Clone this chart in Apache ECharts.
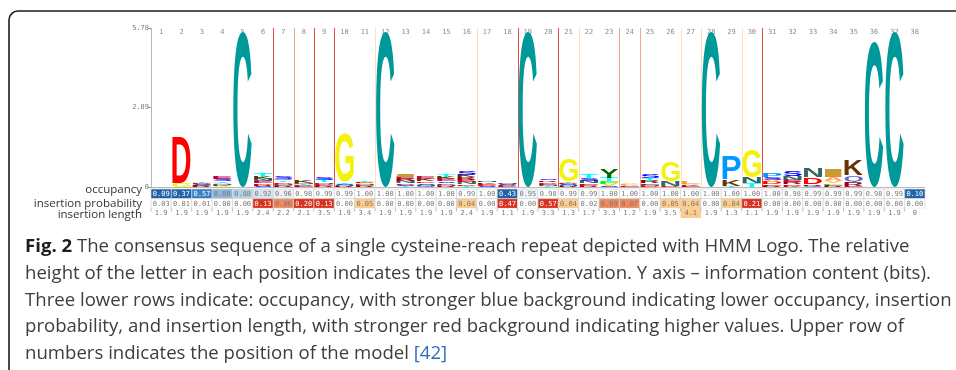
<!DOCTYPE html>
<html lang="en">
<head>
<meta charset="UTF-8">
<title>HMM Logo</title>
<script src="https://cdn.jsdelivr.net/npm/echarts@6/dist/echarts.min.js"></script>
<style>
    html, body { margin: 0; padding: 0; background: #fff; }
    #main { width: 956px; height: 370px; }
</style>
</head>
<body>
<div id="main"></div>
<script>
// model positions (top axis)
var positions = ['1','2','3','4','5','6','7','8','9','10','11','12','13','14','15','16','17','18','19',
    '20','21','22','23','24','25','26','27','28','29','30','31','32','33','34','35','36','37','38'];
var bitTicks = [0, 2.89, 5.78];
var rowNames = ['occupancy', 'insertion probability', 'insertion length'];

var occupancy = [0.09,0.37,0.57,0.80,0.88,0.92,0.96,0.98,0.99,0.99,1.00,1.00,1.00,1.00,1.00,0.99,1.00,0.43,0.95,
    0.98,0.99,0.99,1.00,1.00,1.00,1.00,1.00,1.00,1.00,1.00,1.00,0.98,0.99,0.99,0.99,0.98,0.99,0.10];
var insertProb = [0.03,0.01,0.01,0.00,0.00,0.13,0.06,0.20,0.13,0.00,0.05,0.00,0.00,0.00,0.00,0.04,0.00,0.47,0.00,
    0.57,0.04,0.02,0.09,0.07,0.00,0.05,0.04,0.00,0.04,0.21,0.00,0.00,0.00,0.00,0.00,0.00,0.00,0.00];
var insertLen = [1.9,1.9,1.9,1.9,1.9,2.4,2.2,2.1,3.5,1.9,3.4,1.9,1.9,1.9,1.9,2.4,1.9,1.1,1.9,
    3.3,1.3,1.7,3.3,1.2,1.9,3.5,4.1,1.9,1.3,1.1,1.9,1.9,1.9,1.9,1.9,1.9,1.9,0];

// letters of each column, bottom -> top, [residue, bits]
var logoStacks = [
    [],
    [['G',0.15],['D',1.67]],
    [['R',0.02],['E',0.03],['K',0.03],['S',0.03],['D',0.03],['T',0.04]],
    [['G',0.03],['K',0.04],['N',0.04],['A',0.05],['T',0.06],['S',0.07],['E',0.07]],
    [['C',5.65]],
    [['S',0.04],['R',0.05],['D',0.06],['E',0.07],['N',0.07],['K',0.09],['T',0.12]],
    [['R',0.03],['E',0.04],['N',0.05],['D',0.05],['T',0.06],['Q',0.06],['S',0.07]],
    [['E',0.03],['D',0.03],['T',0.04],['N',0.05],['K',0.07]],
    [['R',0.03],['E',0.04],['D',0.05],['N',0.06],['T',0.07],['S',0.08]],
    [['R',0.03],['N',0.04],['S',0.05],['T',0.06],['G',1.78]],
    [['R',0.03],['E',0.03],['N',0.04],['G',0.04],['D',0.05],['T',0.06]],
    [['C',5.65]],
    [['T',0.04],['S',0.05],['D',0.06],['N',0.07],['R',0.07],['E',0.08],['I',0.10]],
    [['Q',0.04],['N',0.05],['S',0.06],['D',0.06],['K',0.07],['E',0.08]],
    [['R',0.04],['N',0.05],['D',0.06],['S',0.06],['E',0.07],['K',0.08],['T',0.08]],
    [['T',0.05],['D',0.06],['N',0.07],['E',0.08],['R',0.09],['K',0.10],['S',0.15]],
    [['S',0.03],['D',0.04],['E',0.05],['K',0.05],['N',0.05]],
    [['E',0.03],['D',0.03],['S',0.04],['N',0.05]],
    [['C',5.65]],
    [['T',0.03],['N',0.04],['E',0.05],['D',0.06],['R',0.06],['S',0.06]],
    [['R',0.03],['N',0.04],['S',0.04],['D',0.05],['T',0.05],['G',0.80]],
    [['R',0.04],['D',0.05],['E',0.06],['N',0.07],['S',0.10],['T',0.12]],
    [['S',0.04],['V',0.08],['F',0.10],['T',0.12],['Y',0.30]],
    [['E',0.03],['A',0.04],['L',0.05],['V',0.06]],
    [['D',0.04],['N',0.05],['E',0.06],['R',0.07],['T',0.10],['S',0.12]],
    [['D',0.03],['N',0.18],['G',0.73]],
    [['E',0.03],['K',0.04],['A',0.05],['L',0.07]],
    [['C',5.65]],
    [['T',0.04],['K',0.25],['P',0.84]],
    [['T',0.14],['N',0.22],['G',0.98]],
    [['R',0.05],['E',0.06],['D',0.07],['V',0.08],['S',0.10],['P',0.14]],
    [['K',0.04],['D',0.06],['R',0.08],['E',0.08],['N',0.14],['S',0.18]],
    [['Q',0.05],['R',0.05],['D',0.25],['N',0.33]],
    [['R',0.04],['E',0.04],['F',0.05],['V',0.10],['A',0.12],['I',0.30]],
    [['E',0.05],['R',0.13],['Q',0.25],['K',0.58]],
    [['C',5.27]],
    [['C',5.63]],
    []
];

var letterColors = {
    A: '#FF9966', C: '#009999', D: '#FF0000', E: '#CC0033', F: '#00FF00', G: '#f2f20c',
    H: '#660033', I: '#CC9933', K: '#663300', L: '#FF9933', M: '#CC99CC', N: '#336666',
    P: '#0099FF', Q: '#6666CC', R: '#990000', S: '#0000FF', T: '#00FFFF', V: '#FFCC33',
    W: '#66CC66', Y: '#006600'
};

// stack letters
var logoData = [], logoLetters = [];
logoStacks.forEach(function (stack, c) {
    var base = 0;
    stack.forEach(function (s) {
        logoData.push([c, base, base + s[1]]);
        logoLetters.push(s[0]);
        base += s[1];
    });
});

// glyph ink box, measured once per letter
var mctx = document.createElement('canvas').getContext('2d');
mctx.font = 'bold 100px Liberation Sans';
mctx.textBaseline = 'middle';
mctx.textAlign = 'left';
var glyphs = {};
function glyph(ch) {
    if (!glyphs[ch]) {
        var m = mctx.measureText(ch);
        glyphs[ch] = {l: m.actualBoundingBoxLeft, r: m.actualBoundingBoxRight,
            a: m.actualBoundingBoxAscent, d: m.actualBoundingBoxDescent};
    }
    return glyphs[ch];
}

function renderLetter(params, api) {
    var ch = logoLetters[params.dataIndex];
    var bot = api.coord([api.value(0), api.value(1)]);
    var top = api.coord([api.value(0), api.value(2)]);
    var h = bot[1] - top[1];
    if (h < 0.2) return null;
    var w = api.size([1, 0])[0] - 2;
    var g = glyph(ch);
    var sx = w / (g.l + g.r), sy = h / (g.a + g.d);
    return {
        type: 'text',
        x: bot[0] - w / 2 + g.l * sx,
        y: top[1] + g.a * sy,
        scaleX: sx,
        scaleY: sy,
        style: {
            text: ch, x: 0, y: 0,
            fontSize: 100, fontWeight: 'bold', fontFamily: 'Liberation Sans',
            fill: letterColors[ch], align: 'left', verticalAlign: 'middle'
        }
    };
}

function lineColor(p) {
    if (p >= 0.1) return '#e9503f';
    if (p >= 0.06) return '#f6a487';
    if (p >= 0.04) return '#fde0b9';
    return null;
}

function renderInsertLine(params, api) {
    var col = lineColor(api.value(1));
    if (!col) return null;
    var top = api.coord([api.value(0), 5.78]);
    var bot = api.coord([api.value(0), 0]);
    var x = Math.round(top[0] + api.size([1, 0])[0] / 2) + 0.5;
    return {type: 'line', shape: {x1: x, y1: top[1], x2: x, y2: bot[1]},
        style: {stroke: col, lineWidth: 1}};
}

function occFill(v) {
    if (v < 0.45) return '#2064ab';
    if (v < 0.6) return '#3a80c2';
    if (v < 0.85) return '#8fb7dc';
    if (v < 0.9) return '#b6d0e8';
    if (v < 0.95) return '#d6e4f2';
    if (v < 0.97) return '#ecf2f9';
    return '#ffffff';
}
function probFill(v) {
    if (v >= 0.1) return '#d9321f';
    if (v >= 0.06) return '#f08a5c';
    if (v >= 0.04) return '#fdcd8c';
    return '#ffffff';
}

var tableData = [];
occupancy.forEach(function (v, c) { tableData.push([c, 0, v]); });
insertProb.forEach(function (v, c) { tableData.push([c, 1, v]); });
insertLen.forEach(function (v, c) { tableData.push([c, 2, v]); });

function renderCell(params, api) {
    var c = api.value(0), r = api.value(1), v = api.value(2);
    var p = api.coord([c, r]);
    var s = api.size([1, 1]);
    var x0 = p[0] - s[0] / 2, y0 = p[1] - s[1] / 2;
    var fill, txt, label;
    if (r === 0) {
        fill = occFill(v); txt = v < 0.6 ? '#ffffff' : '#7a7a7a'; label = v.toFixed(2);
    } else if (r === 1) {
        fill = probFill(v); txt = v >= 0.1 ? '#ffffff' : '#7a7a7a'; label = v.toFixed(2);
    } else {
        fill = v >= 4 ? '#fdcd8c' : '#ffffff'; txt = '#7a7a7a'; label = v === 0 ? '0' : v.toFixed(1);
    }
    var children = [];
    if (r < 2) {
        children.push({type: 'rect', shape: {x: x0, y: y0, width: s[0], height: s[1]},
            style: {fill: fill, stroke: '#d4d4d4', lineWidth: 0.7}});
    } else {
        children.push({type: 'rect', shape: {x: x0, y: y0, width: s[0], height: s[1]},
            style: {fill: fill}});
        children.push({type: 'line', shape: {x1: x0, y1: y0, x2: x0, y2: y0 + 3},
            style: {stroke: '#aaaaaa', lineWidth: 0.8}});
    }
    children.push({type: 'text', style: {text: label, x: p[0], y: p[1] + 0.5,
        align: 'center', verticalAlign: 'middle', fontFamily: 'DejaVu Sans Mono',
        fontSize: 7, fill: txt}});
    return {type: 'group', children: children};
}

var capFont = 'Open Sans';
var capSize = 18.6;
var capRich = {
    b: {fontFamily: capFont, fontSize: capSize, fontWeight: 'bold', fill: '#1e1e1e'},
    n: {fontFamily: capFont, fontSize: capSize, fill: '#3d3d3d'},
    l: {fontFamily: capFont, fontSize: capSize, fill: '#2a6ebb'}
};
var captionLines = [
    '{b|Fig. 2}{n| The consensus sequence of a single cysteine-reach repeat depicted with HMM Logo. The relative}',
    '{n|height of the letter in each position indicates the level of conservation. Y axis \u2013 information content (bits).}',
    '{n|Three lower rows indicate: occupancy, with stronger blue background indicating lower occupancy, insertion}',
    '{n|probability, and insertion length, with stronger red background indicating higher values. Upper row of}',
    '{n|numbers indicates the position of the model }{l|[42]}'
];
var captionY = [247, 274, 301, 327, 354];

var graphics = [{
    type: 'rect', silent: true, z: -1,
    shape: {x: 9, y: 11, width: 1100, height: 600, r: 9},
    style: {fill: 'none', stroke: '#1c1c1c', lineWidth: 1.6}
}];
captionLines.forEach(function (t, i) {
    graphics.push({type: 'text', silent: true, x: 25, y: captionY[i],
        style: {text: t, rich: capRich, verticalAlign: 'middle', align: 'left'}});
});

// row labels sit a little apart from the 3 thin rows
var rowLabelRich = {
    r0: {fontFamily: 'Open Sans', fontSize: 11.5, color: '#333', padding: [0, 0, 9, 0]},
    r1: {fontFamily: 'Open Sans', fontSize: 11.5, color: '#333'},
    r2: {fontFamily: 'Open Sans', fontSize: 11.5, color: '#333', padding: [4, 0, 0, 0]}
};

var chart = echarts.init(document.getElementById('main'));
chart.setOption({
    animation: false,
    textStyle: {fontFamily: 'DejaVu Sans Mono'},
    grid: [
        {left: 151, top: 28, width: 774, height: 159},
        {left: 151, top: 189, width: 774, height: 29}
    ],
    xAxis: [{
        gridIndex: 0, type: 'category', position: 'top', data: positions, boundaryGap: true,
        axisLine: {lineStyle: {color: '#b8b8b8'}},
        axisTick: {inside: true, length: 3, lineStyle: {color: '#999'}},
        axisLabel: {inside: true, margin: 1, fontSize: 7, color: '#8a8a8a', fontFamily: 'DejaVu Sans Mono', interval: 0},
        splitLine: {show: false}
    }, {
        gridIndex: 1, type: 'category', data: positions, show: false
    }],
    yAxis: [{
        gridIndex: 0, type: 'value', min: bitTicks[0], max: bitTicks[2], interval: bitTicks[1],
        axisLine: {show: true, lineStyle: {color: '#b8b8b8'}},
        axisTick: {show: true, length: 3, lineStyle: {color: '#999'}},
        axisLabel: {margin: 2, fontSize: 7, color: '#7a7a7a', fontFamily: 'DejaVu Sans Mono',
            formatter: function (v) { return v === 0 ? '0' : v.toFixed(2); }},
        splitLine: {show: false}
    }, {
        gridIndex: 1, type: 'category', data: rowNames, inverse: true,
        axisLine: {show: false}, axisTick: {show: false},
        axisLabel: {interval: 0, margin: 9, hideOverlap: false, rich: rowLabelRich,
            formatter: function (v, i) { return '{r' + i + '|' + v + '}'; }}
    }],
    series: [{
        type: 'custom', xAxisIndex: 0, yAxisIndex: 0, silent: true, z: 1,
        data: insertProb.map(function (p, i) { return [i, p]; }),
        encode: {x: 0, y: 1},
        renderItem: renderInsertLine
    }, {
        type: 'custom', xAxisIndex: 0, yAxisIndex: 0, silent: true, z: 2,
        data: logoData,
        encode: {x: 0, y: [1, 2]},
        renderItem: renderLetter
    }, {
        type: 'custom', xAxisIndex: 1, yAxisIndex: 1, silent: true, z: 2,
        data: tableData,
        encode: {x: 0, y: 1},
        renderItem: renderCell
    }],
    graphic: graphics
});
</script>
</body>
</html>
